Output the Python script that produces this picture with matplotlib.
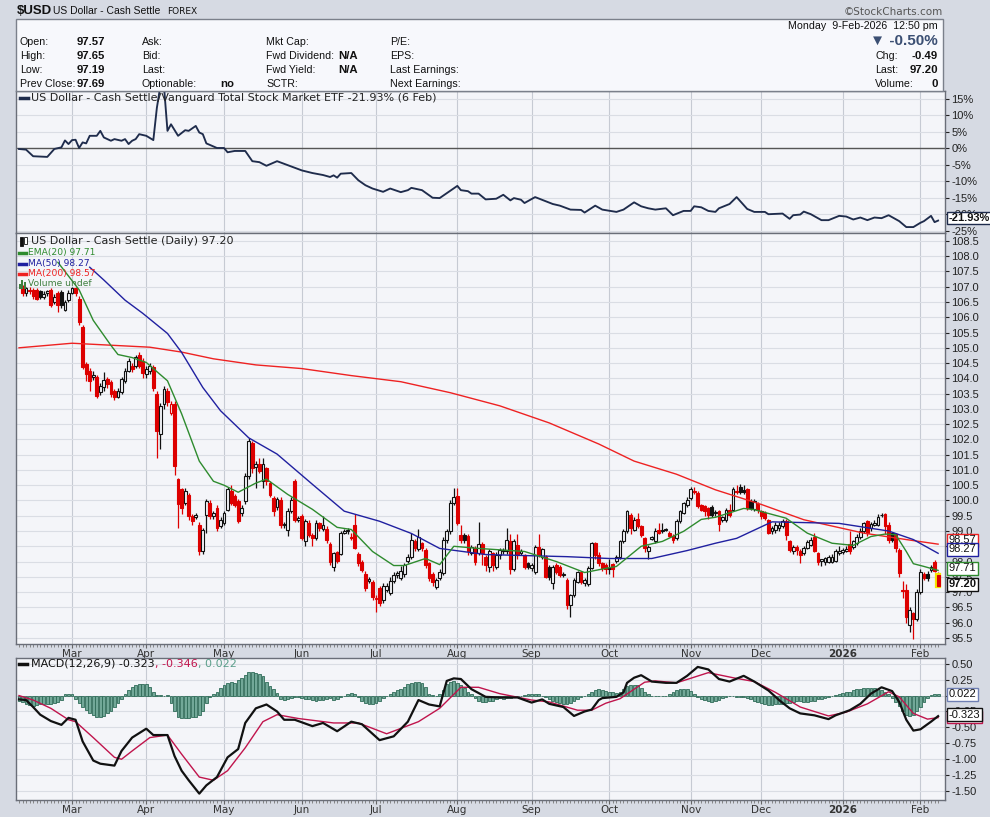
import numpy as np
import pandas as pd
import matplotlib
matplotlib.use('Agg')
import matplotlib.pyplot as plt
import matplotlib.transforms as mtransforms
from matplotlib.patches import Rectangle
from matplotlib.lines import Line2D

plt.rcParams['font.family'] = ['DejaVu Sans']

# ---- data ----
START_DAY = '2025-02-10'
END_DAY = '2026-02-09'

opens = [106.95, 106.80, 106.90, 106.90, 106.89, 106.85, 106.65, 106.80, 106.89, 106.50,
         106.78, 106.83, 106.23, 106.55, 106.80, 106.95, 106.61, 105.68, 104.47, 104.25,
         104.03, 104.03, 103.54, 103.73, 103.98, 103.87, 103.59, 103.40, 103.54, 103.92,
         104.25, 104.42, 104.42, 104.78, 104.58, 104.14, 104.25, 104.36, 103.49, 102.17,
         103.16, 103.60, 102.88, 103.16, 100.69, 100.36, 99.92, 100.19, 99.48, 99.45,
         99.20, 98.33, 99.53, 99.92, 99.48, 99.75, 99.15, 99.26, 99.70, 100.30,
         100.14, 99.97, 99.59, 99.97, 100.80, 101.89, 101.09, 101.18, 100.63, 101.07,
         100.58, 100.08, 99.78, 100.03, 99.19, 99.04, 99.65, 100.65, 99.35, 99.50,
         98.66, 99.26, 98.88, 98.77, 99.26, 99.08, 99.08, 98.57, 97.83, 98.30,
         98.24, 98.93, 99.00, 98.82, 99.19, 98.24, 98.00, 97.60, 97.36, 97.34,
         96.82, 97.12, 96.74, 97.07, 96.96, 97.36, 97.56, 97.45, 97.58, 98.02,
         98.16, 98.66, 98.42, 98.60, 98.38, 97.94, 97.60, 97.18, 97.47, 97.62,
         98.71, 98.99, 99.92, 100.14, 98.88, 98.88, 98.85, 98.27, 98.44, 98.27,
         98.57, 98.16, 97.83, 98.27, 97.83, 98.20, 98.33, 98.33, 98.68, 97.76,
         98.55, 98.28, 98.20, 97.94, 97.80, 97.67, 98.49, 98.16, 98.16, 97.83,
         97.29, 97.89, 97.83, 97.56, 97.40, 96.57, 96.90, 97.34, 97.67, 97.29,
         97.25, 97.78, 98.60, 98.22, 97.94, 97.89, 97.75, 97.91, 98.02, 98.16,
         98.66, 98.99, 99.54, 99.04, 99.40, 99.15, 98.77, 98.33, 98.75, 98.66,
         99.04, 99.01, 99.02, 98.95, 98.85, 98.77, 99.32, 99.59, 99.86, 100.08,
         100.32, 100.25, 99.86, 99.81, 99.75, 99.78, 99.58, 99.65, 99.37, 99.37,
         99.70, 99.70, 100.30, 100.43, 100.33, 100.36, 99.98, 99.73, 99.87, 99.65,
         99.59, 99.37, 98.99, 99.04, 99.10, 99.15, 99.34, 98.66, 98.36, 98.49,
         98.35, 98.27, 98.44, 98.55, 98.79, 98.27, 98.02, 98.00, 98.00, 98.00,
         98.02, 98.27, 98.31, 98.33, 98.57, 98.49, 98.60, 98.82, 98.99, 99.32,
         99.10, 99.21, 99.21, 99.52, 99.56, 99.21, 98.93, 98.90, 98.38, 97.07,
         97.07, 95.91, 96.30, 96.13, 97.01, 97.58, 97.58, 97.73, 97.99, 97.57]
highs = [107.05, 107.00, 107.00, 106.95, 106.95, 106.90, 106.85, 106.90, 106.95, 106.75,
         106.85, 106.90, 106.55, 106.89, 107.00, 107.00, 106.70, 105.75, 104.55, 104.35,
         104.25, 104.10, 103.85, 104.20, 104.05, 103.95, 103.65, 103.70, 104.05, 104.35,
         104.65, 104.50, 104.75, 104.85, 104.65, 104.40, 104.50, 104.45, 103.60, 103.20,
         103.75, 103.70, 103.25, 103.25, 100.75, 100.40, 100.40, 100.25, 99.55, 99.60,
         99.30, 99.10, 100.05, 100.00, 99.65, 99.85, 99.45, 99.65, 100.45, 100.50,
         100.20, 100.05, 99.85, 100.90, 102.05, 101.95, 101.30, 101.40, 101.40, 101.10,
         100.65, 100.15, 100.10, 100.10, 99.30, 99.75, 100.10, 100.70, 99.50, 99.55,
         99.40, 99.35, 98.95, 99.35, 99.30, 99.50, 99.15, 98.65, 98.30, 98.35,
         99.00, 99.05, 99.10, 98.95, 99.55, 98.30, 98.05, 97.70, 97.50, 97.40,
         96.90, 97.20, 97.30, 97.30, 97.50, 97.65, 97.70, 97.85, 97.95, 98.25,
         98.95, 98.75, 99.05, 98.65, 98.45, 98.00, 97.65, 97.45, 97.75, 98.80,
         99.05, 100.00, 100.40, 100.40, 99.20, 98.95, 98.90, 98.55, 98.50, 99.30,
         98.65, 98.20, 98.40, 98.30, 98.30, 98.45, 98.45, 99.10, 98.90, 98.75,
         98.90, 98.40, 98.25, 98.00, 97.95, 98.55, 98.90, 98.45, 98.20, 97.90,
         97.90, 97.95, 97.90, 97.65, 97.45, 96.95, 97.45, 97.70, 97.70, 97.45,
         97.85, 98.65, 98.65, 98.30, 98.00, 97.95, 98.10, 97.95, 98.20, 98.70,
         99.05, 99.70, 99.60, 99.45, 99.60, 99.20, 98.80, 98.55, 98.85, 99.10,
         99.25, 99.25, 99.10, 99.00, 98.90, 99.40, 99.70, 99.95, 100.10, 100.45,
         100.45, 100.30, 99.90, 99.85, 99.80, 99.85, 99.70, 99.70, 99.50, 99.75,
         99.90, 100.45, 100.50, 100.55, 100.50, 100.40, 100.05, 100.05, 99.95, 99.70,
         99.65, 99.40, 99.15, 99.30, 99.30, 99.40, 99.40, 98.70, 98.55, 98.55,
         98.40, 98.50, 98.70, 98.80, 98.95, 98.30, 98.10, 98.15, 98.20, 98.25,
         98.40, 98.50, 98.45, 98.50, 99.00, 98.70, 98.90, 99.10, 99.30, 99.35,
         99.30, 99.35, 99.55, 99.60, 99.60, 99.30, 98.95, 98.95, 98.45, 97.35,
         97.25, 96.50, 96.35, 97.10, 97.75, 97.65, 97.70, 97.90, 98.05, 97.65]
lows = [106.70, 106.70, 106.75, 106.60, 106.55, 106.60, 106.60, 106.70, 106.35, 106.45,
        106.17, 106.30, 106.20, 106.50, 106.75, 106.70, 105.75, 104.30, 103.90, 103.60,
        103.95, 103.35, 103.45, 103.60, 103.70, 103.40, 103.30, 103.35, 103.50, 103.85,
        104.20, 104.20, 104.35, 104.35, 104.00, 104.00, 104.15, 103.60, 101.40, 101.68,
        103.00, 103.10, 102.80, 100.85, 99.10, 99.55, 99.85, 99.35, 99.20, 99.40,
        98.20, 98.25, 98.95, 99.40, 99.40, 99.00, 99.10, 99.20, 99.65, 99.85,
        99.80, 99.25, 99.50, 99.90, 100.70, 100.90, 100.40, 100.90, 100.40, 100.50,
        100.10, 99.50, 99.70, 99.10, 99.10, 98.85, 99.60, 99.30, 99.30, 98.70,
        98.50, 98.80, 98.50, 98.70, 99.00, 99.00, 98.60, 97.90, 97.70, 97.95,
        98.20, 98.90, 98.90, 98.70, 98.40, 97.85, 97.65, 97.05, 97.30, 96.75,
        96.35, 96.55, 96.65, 97.00, 96.90, 97.30, 97.45, 97.40, 97.50, 97.95,
        98.10, 98.35, 98.35, 98.35, 97.80, 97.35, 97.20, 97.10, 97.40, 97.55,
        98.60, 98.90, 99.85, 99.20, 98.60, 98.60, 98.20, 98.20, 97.90, 98.20,
        97.90, 97.70, 97.65, 97.70, 97.75, 98.10, 98.25, 98.25, 97.60, 97.70,
        98.10, 98.20, 97.75, 97.75, 97.70, 97.60, 98.15, 98.10, 97.45, 97.40,
        97.10, 97.60, 97.50, 97.50, 96.45, 96.19, 96.85, 97.30, 97.25, 97.20,
        97.20, 97.75, 98.10, 97.85, 97.70, 97.60, 97.60, 97.50, 97.95, 98.10,
        98.60, 98.95, 98.90, 99.00, 99.10, 98.80, 98.30, 98.10, 98.70, 98.60,
        98.90, 98.95, 99.00, 98.80, 98.60, 98.70, 99.25, 99.55, 99.80, 100.00,
        100.20, 99.75, 99.65, 99.50, 99.40, 99.45, 99.50, 99.00, 99.30, 99.30,
        99.45, 99.65, 100.20, 100.20, 100.20, 99.70, 99.70, 99.65, 99.60, 99.40,
        99.35, 98.90, 98.90, 98.95, 99.00, 99.10, 98.70, 98.30, 98.25, 98.20,
        97.95, 98.20, 98.40, 98.50, 98.30, 97.90, 97.85, 97.90, 97.95, 97.95,
        98.00, 98.20, 98.25, 98.30, 98.25, 98.40, 98.55, 98.75, 98.95, 98.85,
        99.00, 99.15, 99.15, 99.45, 98.90, 98.60, 98.65, 98.30, 97.50, 96.80,
        96.00, 95.70, 95.48, 96.05, 96.95, 97.40, 97.35, 97.65, 97.65, 97.19]
closes = [106.80, 106.95, 106.85, 106.70, 106.61, 106.65, 106.75, 106.85, 106.39, 106.67,
          106.39, 106.39, 106.50, 106.80, 106.95, 106.78, 105.84, 104.36, 104.14, 103.92,
          104.11, 103.43, 103.76, 103.95, 103.81, 103.49, 103.38, 103.57, 103.98, 104.25,
          104.58, 104.31, 104.69, 104.42, 104.17, 104.31, 104.42, 103.70, 102.28, 103.10,
          103.65, 103.21, 103.16, 101.13, 99.87, 99.76, 100.30, 99.48, 99.32, 99.53,
          98.33, 99.04, 99.97, 99.48, 99.59, 99.10, 99.37, 99.59, 100.36, 99.92,
          99.86, 99.32, 99.75, 100.80, 101.95, 101.07, 101.18, 100.96, 101.20, 100.63,
          100.19, 99.65, 100.06, 99.21, 99.23, 99.65, 100.00, 99.37, 99.43, 98.77,
          99.32, 98.88, 98.77, 99.26, 99.10, 99.21, 98.71, 98.00, 98.27, 98.02,
          98.93, 99.01, 99.04, 98.77, 98.46, 97.94, 97.73, 97.14, 97.42, 96.85,
          96.79, 96.63, 97.21, 97.21, 97.36, 97.56, 97.61, 97.69, 97.89, 98.16,
          98.71, 98.44, 98.82, 98.44, 97.89, 97.45, 97.34, 97.40, 97.67, 98.71,
          98.99, 99.92, 100.11, 99.26, 98.71, 98.71, 98.33, 98.49, 98.00, 98.58,
          98.27, 97.89, 98.33, 97.89, 98.22, 98.38, 98.38, 98.71, 97.76, 98.66,
          98.22, 98.33, 97.83, 97.83, 97.89, 98.49, 98.22, 98.42, 97.50, 97.50,
          97.83, 97.67, 97.56, 97.60, 96.57, 96.90, 97.40, 97.67, 97.34, 97.40,
          97.78, 98.60, 98.20, 97.94, 97.78, 97.76, 97.80, 97.76, 98.16, 98.66,
          98.99, 99.65, 99.10, 99.37, 99.15, 98.88, 98.44, 98.49, 98.80, 99.01,
          98.93, 99.04, 99.05, 98.85, 98.71, 99.32, 99.65, 99.92, 100.03, 100.36,
          100.28, 99.81, 99.70, 99.65, 99.54, 99.54, 99.62, 99.23, 99.45, 99.70,
          99.54, 100.36, 100.28, 100.28, 100.28, 99.76, 99.76, 99.98, 99.70, 99.48,
          99.43, 98.93, 99.10, 99.21, 99.21, 99.32, 98.88, 98.38, 98.49, 98.38,
          98.22, 98.46, 98.64, 98.71, 98.33, 97.98, 98.08, 98.11, 98.14, 98.16,
          98.33, 98.35, 98.38, 98.42, 98.33, 98.66, 98.82, 99.01, 99.26, 98.93,
          99.23, 99.26, 99.45, 99.54, 99.15, 98.71, 98.71, 98.44, 97.62, 97.04,
          96.19, 96.41, 96.13, 97.01, 97.67, 97.45, 97.45, 97.83, 97.69, 97.20]

ema20_idx = [11, 14, 17, 21, 26, 28, 32, 36, 42, 46, 51, 55, 58, 62, 67, 70, 76, 83, 90, 94,
             100, 106, 109, 115, 119, 123, 130, 143, 152, 160, 167, 169, 176, 182, 188, 193,
             197, 205, 208, 217, 223, 230, 236, 241, 245, 248, 251, 253, 256, 260]
ema20_val = [107.8, 107.35, 106.9, 105.9, 105.08, 104.78, 104.68, 104.52, 103.92, 102.84,
             101.29, 100.63, 100.5, 100.27, 100.57, 100.7, 100.2, 99.71, 99.12, 99.05,
             98.33, 97.87, 97.87, 98.1, 97.9, 98.5, 98.43, 98.33, 98.0, 97.64,
             97.8, 97.84, 98.5, 98.66, 98.99, 99.38, 99.45, 99.74, 99.7, 99.42,
             98.93, 98.6, 98.53, 98.82, 98.9, 98.88, 98.33, 97.93, 97.84, 97.71]

ma50_idx = [20, 24, 30, 35, 42, 46, 52, 57, 65, 73, 83, 92, 102, 111, 119, 132, 155, 167, 179,
            189, 197, 203, 213, 232, 246, 253, 260]
ma50_val = [107.64, 107.22, 106.56, 106.13, 105.47, 104.85, 103.7, 102.94, 102.05, 101.52,
            100.53, 99.65, 99.32, 98.92, 98.43, 98.23, 98.16, 98.10, 98.1, 98.36, 98.6,
            98.76, 99.3, 99.25, 99.0, 98.72, 98.27]

ma200_idx = [0, 15, 37, 46, 55, 67, 80, 94, 108, 122, 136, 150, 164, 174, 186, 197, 210, 222,
             239, 251, 260]
ma200_val = [105.0, 105.15, 105.02, 104.86, 104.64, 104.44, 104.32, 104.09, 103.89, 103.53,
             103.1, 102.54, 101.85, 101.29, 100.86, 100.35, 99.87, 99.37, 98.93, 98.72, 98.57]

rel_idx = [0, 2, 4, 8, 10, 12, 13, 14, 15, 16, 17, 18, 19, 20, 22, 23, 24, 26, 27, 29,
           30, 31, 32, 33, 34, 36, 38, 39, 40, 41, 42, 43, 45, 47, 48, 50, 51, 52, 53, 56,
           58, 59, 61, 64, 66, 68, 70, 73, 76, 78, 80, 83, 86, 88, 89, 90, 91, 94, 96, 98,
           100, 103, 105, 108, 110, 111, 114, 117, 119, 124, 125, 127, 128, 130, 132, 135, 137, 139, 140, 142,
           143, 146, 151, 153, 156, 159, 160, 163, 165, 169, 171, 174, 176, 178, 180, 183, 185, 188, 190, 191,
           193, 195, 197, 198, 201, 203, 206, 208, 211, 212, 216, 218, 219, 221, 222, 224, 227, 229, 232, 234,
           236, 238, 240, 242, 244, 246, 249, 251, 253, 255, 256, 258, 259, 260]
rel_pct = [-0.2, -0.4, -2.4, -2.6, -0.2, 0.3, 2.4, 1.3, 2.5, 2.6, 0.1, 1.8, 1.5, 3.8, 3.8, 5.3, 3.3, 2.3, 2.8, 2.3,
           2.8, 1.3, 2.3, 2.8, 4.3, 3.8, 2.5, 12.3, 19.0, 19.0, 5.3, 7.3, 3.8, 5.5, 5.3, 6.8, 4.8, 4.3, 1.5, 0.1,
           0.1, -1.2, -0.8, -0.8, -3.9, -4.2, -5.3, -3.9, -5.1, -5.9, -6.7, -7.5, -8.1, -8.7, -8.2, -8.9, -7.7, -7.5, -9.7, -11.2,
           -12.2, -13.2, -12.2, -13.3, -12.7, -12.0, -12.7, -15.0, -15.1, -11.4, -12.7, -13.0, -13.75, -13.75, -15.5, -15.3, -14.1, -15.8, -15.1, -15.6,
           -16.6, -14.8, -16.9, -17.4, -18.6, -18.7, -19.5, -17.4, -18.6, -19.3, -18.6, -16.4, -17.6, -18.2, -18.6, -18.2, -20.3, -19.0, -19.0, -17.6,
           -17.9, -19.0, -19.3, -18.2, -16.9, -14.8, -18.4, -19.3, -19.3, -20.0, -19.8, -21.4, -20.3, -20.1, -19.2, -20.0, -21.8, -21.8, -20.5, -20.7,
           -21.6, -21.0, -21.8, -21.0, -21.2, -20.3, -22.1, -23.9, -23.9, -22.6, -22.1, -20.5, -22.4, -21.93]

macd_idx = [0, 2, 4, 6, 9, 12, 14, 16, 18, 21, 23, 27, 29, 32, 36, 38, 42, 44, 46, 48,
            51, 53, 56, 59, 62, 64, 67, 70, 73, 75, 78, 83, 86, 90, 94, 97, 102, 106, 110, 113,
            116, 119, 121, 123, 125, 128, 132, 136, 141, 145, 148, 150, 154, 157, 160, 162, 164, 165, 169, 171,
            172, 174, 176, 179, 183, 186, 189, 192, 195, 198, 201, 205, 208, 212, 215, 218, 221, 225, 229, 231,
            235, 238, 241, 244, 247, 249, 251, 253, 255, 258, 260]
macd_val = [-0.06, -0.07, -0.18, -0.30, -0.40, -0.46, -0.35, -0.38, -0.72, -1.02, -1.07, -1.10, -0.87, -0.66, -0.52, -0.62, -0.62, -0.95, -1.18, -1.33,
            -1.54, -1.41, -1.28, -0.97, -0.84, -0.43, -0.20, -0.14, -0.25, -0.38, -0.38, -0.48, -0.43, -0.56, -0.41, -0.45, -0.70, -0.64, -0.41, -0.07,
            -0.14, -0.17, 0.23, 0.27, 0.26, 0.10, -0.02, -0.03, -0.03, -0.11, -0.06, -0.13, -0.18, -0.32, -0.25, -0.22, -0.07, -0.04, -0.02, 0.05,
            0.20, 0.28, 0.32, 0.22, 0.20, 0.20, 0.31, 0.45, 0.41, 0.26, 0.22, 0.31, 0.22, 0.08, -0.07, -0.20, -0.28, -0.31, -0.37, -0.31,
            -0.23, -0.13, 0.03, 0.13, 0.07, -0.10, -0.38, -0.55, -0.53, -0.41, -0.323]

signal_idx = [0, 4, 9, 14, 16, 21, 27, 29, 32, 37, 42, 46, 51, 55, 59, 64, 69, 73, 79, 89,
              96, 104, 113, 119, 125, 130, 136, 145, 150, 158, 162, 166, 170, 174, 177, 180, 186, 195, 202, 208,
              214, 221, 229, 234, 240, 246, 249, 253, 257, 260]
signal_val = [0.0, -0.07, -0.20, -0.38, -0.41, -0.66, -0.97, -1.0, -0.87, -0.66, -0.62, -0.92, -1.28, -1.33, -1.18, -0.82, -0.41, -0.30, -0.36, -0.43,
              -0.43, -0.60, -0.41, -0.20, 0.13, 0.13, 0.03, -0.07, -0.10, -0.23, -0.23, -0.12, -0.05, 0.10, 0.21, 0.23, 0.20, 0.36, 0.28, 0.22,
              0.05, -0.18, -0.32, -0.26, -0.13, 0.06, -0.02, -0.28, -0.37, -0.346]

hist_val = [-0.08, -0.10, -0.13, -0.15, -0.16, -0.15, -0.14, -0.14, -0.13, -0.13, -0.12, -0.10, -0.07, 0.02, 0.03, 0.02,
            -0.05, -0.12, -0.18, -0.23, -0.27, -0.31, -0.33, -0.33, -0.32, -0.28, -0.24, -0.18, -0.12, -0.05,
            0.02, 0.08, 0.13, 0.17, 0.18, 0.18, 0.18, 0.14, 0.05, 0.01, 0.01, 0.0, 0.01,
            -0.12, -0.25, -0.33, -0.35, -0.35, -0.35, -0.34, -0.34, -0.30, -0.25, -0.12, -0.03,
            0.03, 0.06, 0.12, 0.17, 0.20, 0.21, 0.20, 0.24, 0.28, 0.33, 0.37, 0.37, 0.36, 0.34, 0.30, 0.22, 0.15, 0.10, 0.04,
            -0.05, -0.07, -0.06, -0.04, -0.02, -0.03, -0.04, -0.05, -0.05, -0.07, -0.08, -0.07, -0.07, -0.05, -0.04, -0.07,
            -0.06, -0.03, -0.01, 0.03, 0.04, 0.02,
            -0.03, -0.08, -0.11, -0.13, -0.13, -0.12, -0.08, -0.04, -0.01,
            0.02, 0.05, 0.08, 0.11, 0.14, 0.18, 0.20, 0.22, 0.22, 0.20, 0.13, 0.03, 0.01, 0.0, 0.02, 0.09, 0.18, 0.22,
            0.23, 0.20, 0.16, 0.12, 0.06, 0.02,
            -0.04, -0.08, -0.10, -0.10, -0.09, -0.08, -0.06,
            -0.04, -0.05, -0.04, -0.04, -0.03, -0.02, -0.01, 0.01, 0.02, 0.02, 0.03, 0.02, 0.0,
            -0.03, -0.06, -0.08, -0.10, -0.12, -0.13, -0.13, -0.11, -0.09, -0.06, -0.03, -0.01,
            0.02, 0.06, 0.09, 0.10, 0.08, 0.07, 0.06, 0.05, 0.04, 0.05, 0.10, 0.15, 0.17, 0.17, 0.16, 0.12, 0.06, 0.02,
            0.0, 0.0, 0.0,
            -0.01, 0.0, 0.02, 0.05, 0.08, 0.10, 0.11, 0.10, 0.07, 0.03,
            -0.02, -0.05, -0.07, -0.09, -0.10, -0.09, -0.07, -0.04, -0.03, -0.01, -0.01, -0.02, -0.02, -0.03, -0.04,
            -0.06, -0.08, -0.10, -0.12, -0.14, -0.15, -0.15, -0.14, -0.13, -0.13, -0.12, -0.11, -0.10, -0.09, -0.09,
            -0.10, -0.10, -0.09, -0.08, -0.06, -0.05, -0.04, -0.02, -0.01,
            0.01, 0.02, 0.04, 0.05, 0.06, 0.08, 0.10, 0.11, 0.12, 0.12, 0.12, 0.12, 0.11, 0.09, 0.05, 0.02,
            -0.04, -0.10, -0.17, -0.25, -0.31, -0.32, -0.30, -0.25, -0.18, -0.10, -0.04, 0.01, 0.03, 0.02]

# ---- styles ----
BG_FIG = '#d6dae3'
BG_PANEL = '#f4f5f9'
GRID = '#dadde4'
VGRID = '#c6cad3'
RED = '#dd0000'
EMA_C = '#2e8b2e'
MA50_C = '#2020a0'
MA200_C = '#ee2222'
REL_C = '#1f2c4c'
SIG_C = '#c0144c'
HIST_FC = '#72a898'
HIST_EC = '#2f6b58'
ARIAL = ['Liberation Sans', 'DejaVu Sans']

W, H = 990, 817
dates = pd.bdate_range(START_DAY, END_DAY)
n_days = len(dates)
XLIM = (-0.85, 261.95)


def fx(px):
    return px / W


def fy(py):
    return 1 - py / H


def style_panel(ax, yticks, fmt):
    ax.set_facecolor(BG_PANEL)
    ax.set_xlim(*XLIM)
    ax.yaxis.tick_right()
    ax.set_yticks(yticks)
    ax.set_yticklabels([fmt % v for v in yticks], family=ARIAL, fontsize=8)
    ax.tick_params(axis='y', colors='#222222', length=3, pad=1.5, width=0.8)
    ax.grid(axis='y', color=GRID, lw=0.8)
    ax.set_axisbelow(True)
    for s in ax.spines.values():
        s.set_color('#6a6e78')
        s.set_linewidth(1.0)
    for p in month_pos:
        ax.axvline(p, color=VGRID, lw=0.8, zorder=0)


def month_axis(ax, show_labels):
    ax.set_xticks(month_pos)
    if show_labels:
        ax.set_xticklabels(month_lab, fontsize=7.5, color='#333333')
        for t, lab in zip(ax.get_xticklabels(), month_lab):
            if lab == '2026':
                t.set_fontweight('bold')
    else:
        ax.set_xticklabels([])
    ax.set_xticks(np.arange(n_days), minor=True)
    ax.tick_params(axis='x', which='major', length=3, pad=0.5, color='#666666')
    ax.tick_params(axis='x', which='minor', length=2, width=0.6, color='#777777')


def tag(ax, y, text, ec, bold=False):
    tr = mtransforms.blended_transform_factory(ax.transAxes, ax.transData)
    ax.text(1.004, y, text, transform=tr, ha='left', va='center', fontsize=8, family=ARIAL,
            fontweight='bold' if bold else 'normal', color='#111111', zorder=10, clip_on=False,
            bbox=dict(boxstyle='square,pad=0.12', fc='white', ec=ec, lw=1.0))


month_pos = []
month_lab = []
for i in range(1, n_days):
    if dates[i].month != dates[i - 1].month:
        month_pos.append(i)
        month_lab.append('2026' if dates[i].month == 1 else dates[i].strftime('%b'))

fig = plt.figure(figsize=(W / 100, H / 100), dpi=100, facecolor=BG_FIG)

# ---- header and info box ----
fig.text(fx(17), fy(11), '$USD', fontsize=9.5, fontweight='bold', va='center', color='#111111', family=ARIAL)
fig.text(fx(53), fy(11), 'US Dollar - Cash Settle', fontsize=7.5, va='center', color='#111111', family=ARIAL)
fig.text(fx(167), fy(11.5), 'FOREX', fontsize=6.5, va='center', color='#111111')
fig.text(fx(943), fy(12), '\u00a9StockCharts.com', fontsize=7.5, va='center', ha='right', color='#555555')

fig.patches.append(Rectangle((fx(16), fy(91)), fx(927), 72 / H, transform=fig.transFigure,
                             fc='#f7f8fc', ec='#7b808b', lw=1.0, zorder=0))

info_font = {'family': ARIAL, 'size': 7.7}
rows_y = [42, 56, 70, 84]
left_cols = [
    (20, ['Open:', 'High:', 'Low:', 'Prev Close:']),
    (142, ['Ask:', 'Bid:', 'Last:', 'Optionable:']),
    (266, ['Mkt Cap:', 'Fwd Dividend:', 'Fwd Yield:', 'SCTR:']),
    (390, ['P/E:', 'EPS:', 'Last Earnings:', 'Next Earnings:']),
]
for x0, labels in left_cols:
    for ry, lab in zip(rows_y, labels):
        fig.text(fx(x0), fy(ry), lab, va='center', color='#111111', fontdict=info_font)
bold_vals = [(77, 42, '97.57'), (77, 56, '97.65'), (77, 70, '97.19'), (77, 84, '97.69'),
             (220, 84, 'no'), (338, 56, 'N/A'), (338, 70, 'N/A')]
for x0, ry, s in bold_vals:
    fig.text(fx(x0), fy(ry), s, va='center', color='#111111', fontweight='bold', family=ARIAL, fontsize=8.2)

fig.text(fx(938), fy(26), 'Monday  9-Feb-2026  12:50 pm', ha='right', va='center', color='#111111', fontdict=info_font)
fig.text(fx(938), fy(41), '\u25bc -0.50%', ha='right', va='center', color='#3b4f73', fontsize=11, fontweight='bold',
         family=ARIAL)
for ry, lab, val in [(56, 'Chg:', '-0.49'), (70, 'Last:', '97.20'), (84, 'Volume:', '0')]:
    fig.text(fx(875), fy(ry), lab, va='center', color='#111111', fontdict=info_font)
    fig.text(fx(938), fy(ry), val, ha='right', va='center', color='#111111', fontweight='bold', family=ARIAL,
             fontsize=8.2)

# ---- axes ----
ax_rel = fig.add_axes([fx(16), fy(233), 929 / W, 142 / H])
ax_px = fig.add_axes([fx(16), fy(644), 929 / W, 411 / H])
ax_macd = fig.add_axes([fx(16), fy(800), 929 / W, 142 / H])

# relative strength panel
style_panel(ax_rel, list(range(-25, 16, 5)), '%d%%')
month_axis(ax_rel, False)
ax_rel.tick_params(axis='x', which='both', length=0)
ax_rel.set_ylim(-25.7, 17.4)
ax_rel.axhline(0, color='#555555', lw=1.0, zorder=1)
ax_rel.plot(rel_idx, rel_pct, color=REL_C, lw=1.35, zorder=3)
ax_rel.add_line(Line2D([0.004, 0.013], [0.952, 0.952], transform=ax_rel.transAxes, color=REL_C, lw=2.5))
ax_rel.text(0.0165, 0.952, 'US Dollar - Cash Settle/Vanguard Total Stock Market ETF -21.93% (6 Feb)',
            transform=ax_rel.transAxes, fontsize=8, va='center', color='#222222')
tag(ax_rel, rel_pct[-1] + 0.8, '-21.93%', REL_C, bold=True)

# price panel
style_panel(ax_px, list(np.arange(95.5, 108.51, 0.5)), '%.1f')
month_axis(ax_px, True)
ax_px.set_ylim(95.30, 108.76)

o = np.array(opens)
hi = np.array(highs)
lo = np.array(lows)
c = np.array(closes)
xs = np.arange(n_days - len(c), n_days)
prev = np.concatenate([[o[0]], c[:-1]])
for k in range(len(c)):
    col = RED if c[k] < prev[k] else '#111111'
    fill = col if c[k] < o[k] else BG_PANEL
    ax_px.vlines(xs[k], lo[k], hi[k], color=col, lw=0.9, zorder=3)
    body_lo = min(o[k], c[k])
    body_h = max(abs(c[k] - o[k]), 0.02)
    ax_px.bar(xs[k], body_h, bottom=body_lo, width=0.8, facecolor=fill, edgecolor=col, lw=0.8, zorder=4)
# highlight on the latest bar
ax_px.bar(xs[-1], abs(c[-1] - o[-1]) + 0.06, bottom=min(c[-1], o[-1]) - 0.03, width=1.3,
          facecolor='none', edgecolor='#f5e600', lw=1.6, zorder=3.5)

ax_px.plot(ma200_idx, ma200_val, color=MA200_C, lw=1.0, zorder=5)
ax_px.plot(ma50_idx, ma50_val, color=MA50_C, lw=1.0, zorder=5)
ax_px.plot(ema20_idx, ema20_val, color=EMA_C, lw=1.0, zorder=5)

leg_y = [(644 - 241) / 411, (644 - 253) / 411, (644 - 264) / 411, (644 - 274) / 411, (644 - 284) / 411]
ax_px.add_patch(Rectangle((0.004, leg_y[0] - 0.012), 0.003, 0.022, transform=ax_px.transAxes, fc='#111111', ec='#111111', lw=0.6, zorder=6))
ax_px.add_patch(Rectangle((0.009, leg_y[0] - 0.008), 0.003, 0.018, transform=ax_px.transAxes, fc='white', ec='#111111', lw=0.6, zorder=6))
ax_px.text(0.0165, leg_y[0], 'US Dollar - Cash Settle (Daily) 97.20', transform=ax_px.transAxes,
           fontsize=8, va='center', color='#222222', zorder=6)
for yy, lab, col in [(leg_y[1], 'EMA(20) 97.71', EMA_C), (leg_y[2], 'MA(50) 98.27', MA50_C),
                     (leg_y[3], 'MA(200) 98.57', MA200_C)]:
    ax_px.add_line(Line2D([0.003, 0.011], [yy, yy], transform=ax_px.transAxes, color=col, lw=2.5, zorder=6))
    ax_px.text(0.0125, yy, lab, transform=ax_px.transAxes, fontsize=6.6, va='center', color=col, zorder=6)
for k, hh in enumerate([0.012, 0.02, 0.016]):
    ax_px.add_patch(Rectangle((0.003 + k * 0.0027, leg_y[4] - 0.011), 0.002, hh, transform=ax_px.transAxes,
                              fc='#3f7f3f', ec='none', zorder=6))
ax_px.text(0.0125, leg_y[4], 'Volume undef', transform=ax_px.transAxes, fontsize=6.6, va='center',
           color='#3f7f3f', zorder=6)

tag(ax_px, ma200_val[-1] + 0.12, '98.57', MA200_C)
tag(ax_px, ma50_val[-1] + 0.13, '98.27', MA50_C)
tag(ax_px, ema20_val[-1] + 0.07, '97.71', EMA_C)
tag(ax_px, closes[-1] + 0.05, '97.20', '#111111', bold=True)

# MACD panel
style_panel(ax_macd, [0.5, 0.25, 0.0, -0.25, -0.5, -0.75, -1.0, -1.25, -1.5], '%.2f')
month_axis(ax_macd, True)
ax_macd.set_ylim(-1.64, 0.59)
hx = np.arange(n_days - len(hist_val), n_days)
ax_macd.bar(hx, hist_val, width=0.8, facecolor=HIST_FC, edgecolor=HIST_EC, lw=0.6, zorder=2)
ax_macd.plot(signal_idx, signal_val, color=SIG_C, lw=1.0, zorder=3)
ax_macd.plot(macd_idx, macd_val, color='#111111', lw=1.6, zorder=4)

fig.canvas.draw()
renderer = fig.canvas.get_renderer()
my = (800 - 664) / 142
ax_macd.add_line(Line2D([0.003, 0.012], [my, my], transform=ax_macd.transAxes, color='#111111', lw=2.5))
xpos = 0.0165
for s, col in [('MACD(12,26,9) -0.323', '#111111'), (', -0.346', SIG_C), (', 0.022', '#5a9e8a')]:
    t = ax_macd.text(xpos, my, s, transform=ax_macd.transAxes, fontsize=8, va='center', color=col, zorder=6)
    bb = t.get_window_extent(renderer)
    xpos = ax_macd.transAxes.inverted().transform((bb.x1, bb.y0))[0]

tag(ax_macd, -0.335, '-0.346', SIG_C)
tag(ax_macd, -0.30, '-0.323', '#111111')
tag(ax_macd, 0.022, '0.022', '#6f7fb3')

fig.savefig('out.png', dpi=100, facecolor=BG_FIG)
